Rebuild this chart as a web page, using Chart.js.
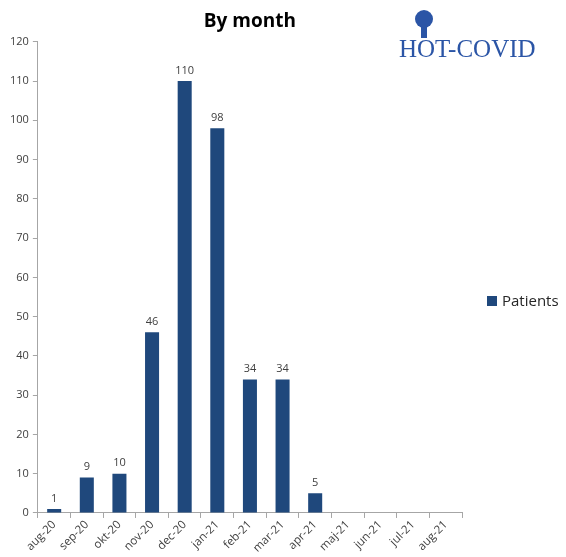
<!DOCTYPE html>
<html>
<head>
<meta charset="utf-8">
<style>
  html, body { margin: 0; padding: 0; background: #fff; }
  #wrap { width: 566px; height: 557px; }
</style>
<script src="https://cdn.jsdelivr.net/npm/chart.js@4"></script>
</head>
<body>
<div id="wrap"><canvas id="chart" width="566" height="557"></canvas></div>
<script>
const months = ["aug-20", "sep-20", "okt-20", "nov-20", "dec-20", "jan-21", "feb-21",
  "mar-21", "apr-21", "maj-21", "jun-21", "jul-21", "aug-21"];
const patients = [1, 9, 10, 46, 110, 98, 34, 34, 5, null, null, null, null];
const yTicks = { min: 0, max: 120, step: 10 };

const barColor = "#1f487c";
const textColor = "#404040";
const axisColor = "#a6a6a6";

// labels above bars, logo and legend drawn on top
const extras = {
  id: "extras",
  afterDatasetsDraw(chart) {
    const c = chart.ctx;
    const meta = chart.getDatasetMeta(0);
    c.save();
    c.fillStyle = textColor;
    c.font = "11px 'Open Sans', sans-serif";
    c.textAlign = "center";
    c.textBaseline = "bottom";
    meta.data.forEach((bar, i) => {
      if (patients[i] == null) return;
      c.fillText(String(patients[i]), bar.x, bar.y - 5);
    });
    c.restore();
  },
  afterDraw(chart) {
    const c = chart.ctx;
    c.save();
    // logo
    c.fillStyle = "#2b55a6";
    c.beginPath();
    c.arc(424, 19, 9, 0, Math.PI * 2);
    c.fill();
    c.fillRect(421, 26, 6, 12);
    c.font = "25px 'Liberation Serif', serif";
    c.textBaseline = "alphabetic";
    c.textAlign = "left";
    c.fillText("HOT-COVID", 399, 57);
    // legend
    c.fillStyle = barColor;
    c.fillRect(487, 296, 10, 10);
    c.fillStyle = "#262626";
    c.font = "15px 'Open Sans', sans-serif";
    c.textBaseline = "middle";
    c.fillText("Patients", 502, 302);
    c.restore();
  }
};

new Chart(document.getElementById("chart"), {
  type: "bar",
  data: {
    labels: months,
    datasets: [{
      label: "Patients",
      data: patients,
      backgroundColor: barColor,
      barPercentage: 0.43,
      categoryPercentage: 1.0,
    }],
  },
  options: {
    responsive: false,
    animation: false,
    layout: { padding: { left: 6, right: 104, top: 0, bottom: 2 } },
    plugins: {
      legend: { display: false },
      tooltip: { enabled: false },
      title: {
        display: true,
        fullSize: false,
        text: "By month",
        color: "#000",
        font: { family: "'Open Sans', sans-serif", size: 19, weight: "bold" },
        padding: { top: 10, bottom: 9 },
      },
    },
    scales: {
      x: {
        grid: { display: true, drawOnChartArea: false, offset: true, color: axisColor, tickLength: 5 },
        border: { color: axisColor },
        ticks: {
          color: textColor,
          font: { family: "'Open Sans', sans-serif", size: 11.5 },
          minRotation: 45,
          maxRotation: 45,
          padding: 0,
        },
      },
      y: {
        min: yTicks.min,
        max: yTicks.max,
        grid: { display: true, drawOnChartArea: false, color: axisColor, tickLength: 5 },
        border: { color: axisColor },
        ticks: {
          stepSize: yTicks.step,
          color: textColor,
          font: { family: "'Open Sans', sans-serif", size: 11 },
          padding: 4,
        },
      },
    },
  },
  plugins: [extras],
});
</script>
</body>
</html>
